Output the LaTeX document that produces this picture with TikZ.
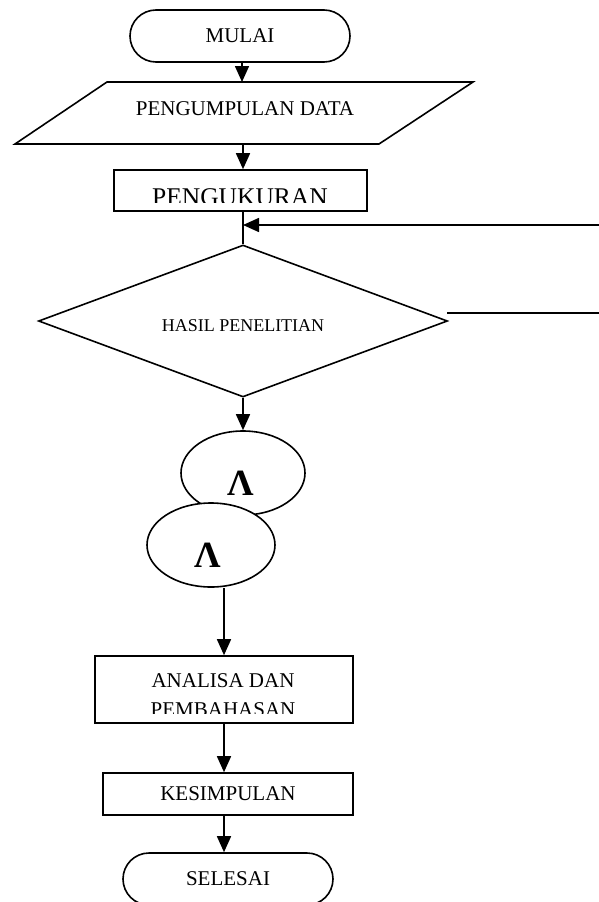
\documentclass[tikz,border=0pt]{standalone}
\usepackage{fontspec}
\setmainfont{Liberation Serif}
\usetikzlibrary{shapes.geometric,shapes.misc,arrows.meta}
\begin{document}
\begin{tikzpicture}[x=1pt,y=-1pt,line width=1.6pt,
  box/.style={draw,rectangle,inner sep=0pt},
  term/.style={draw,rounded rectangle,inner sep=0pt,minimum height=52pt,font=\fontsize{21}{25}\selectfont},
  lbl/.style={inner sep=0pt,font=\fontsize{21}{25}\selectfont},
  bigl/.style={inner sep=0pt,font=\fontsize{37}{40}\selectfont\bfseries},
  oval/.style={draw,ellipse,fill=white,inner sep=0pt,minimum height=84pt},
  flow/.style={-{Triangle[length=16pt,width=14pt]}}
]
\useasboundingbox (0,0) rectangle (599,902);

% start
\node[term,minimum width=220pt] (mulai) at (240,36) {MULAI};

% data input parallelogram
\draw (107,82) -- (473,82) -- (379,144) -- (15,144) -- cycle;
\coordinate (pdtop) at (242,82);
\coordinate (pdbot) at (243,144);
\node[lbl] (pd) at (245,109) {PENGUMPULAN DATA};

% measuring box
\node[box,minimum width=253pt,minimum height=41pt] (ukur) at (240.5,190.5) {};
\begin{scope}
  \clip (114,170) rectangle (367,202.5);
  \node[inner sep=0pt,anchor=base,font=\fontsize{25.5}{30}\selectfont] (ukurtxt) at (240,205) {PENGUKURAN};
\end{scope}

% decision
\node[draw,diamond,aspect=2.69,minimum width=409pt,minimum height=152pt,inner sep=0pt] (hasil) at (243,321) {};
\node[inner sep=0pt,font=\fontsize{18}{22}\selectfont] (hasiltxt) at (243,326) {HASIL PENELITIAN};

% connectors top
\draw[flow] (pdtop |- mulai.south) -- (pdtop);
\draw[flow] (pdbot) -- (pdbot |- ukur.north);
\draw (hasil.north |- ukur.south) -- (hasil.north);

\coordinate (fbin) at (599,225);
\draw[flow] (fbin) -- (fbin -| hasil.north);

\coordinate (rout) at (599,313);
\draw ([shift={(-1,-8)}]hasil.east) -- (rout);

% connectors (circles)
\node[oval,minimum width=124pt] (e1) at (243,473) {};
\node[bigl] (l1) at (241,483) {Λ};
\node[oval,minimum width=128pt] (e2) at (211,545) {};
\node[bigl] (l2) at (208,555) {Λ};

\draw[flow] (hasil.south) -- (e1.north);

% analysis box
\node[box,minimum width=258pt,minimum height=67pt] (ana) at (224,689.5) {};
\node[lbl] (anatxt1) at (223,681) {ANALISA DAN};
\begin{scope}
  \clip (95,656) rectangle (353,713);
  \node[lbl] (anatxt2) at (223,710) {PEMBAHASAN};
\end{scope}

\draw[flow] (ana.north |- e2.south) -- (ana.north);

% conclusion
\node[box,minimum width=250pt,minimum height=42pt,font=\fontsize{21}{25}\selectfont] (kes) at (228,794) {KESIMPULAN};
\draw[flow] (ana.south) -- (ana.south |- kes.north);

% end
\node[term,minimum width=210pt] (sel) at (228,879) {SELESAI};
\draw[flow] (ana.south |- kes.south) -- (ana.south |- sel.north);
\end{tikzpicture}
\end{document}
